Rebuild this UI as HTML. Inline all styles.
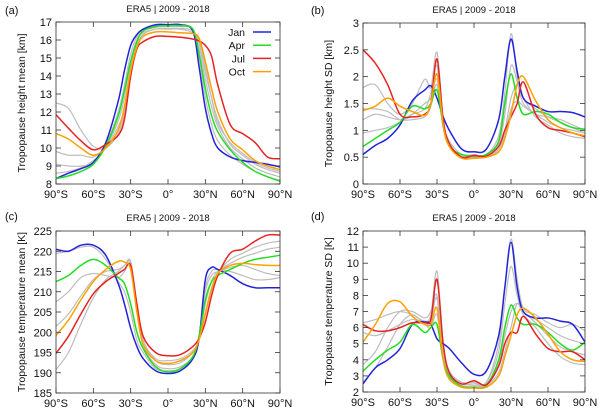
<!DOCTYPE html>
<html><head><meta charset="utf-8"><style>
body{margin:0;background:#fff}
svg{display:block;font-family:"Liberation Sans",sans-serif}
</style></head><body>
<svg id="fig" width="600" height="410" viewBox="0 0 600 410"></svg>
<script>
const lats=[-90,-80,-70,-60,-50,-40,-35,-30,-25,-20,-10,0,10,20,25,30,35,40,50,60,70,80,90];
const xTickVals=[-90,-60,-30,0,30,60,90];
const xTickLabels=["90°S","60°S","30°S","0°","30°N","60°N","90°N"];
const seriesNames=["Jan","Apr","Jul","Oct"];
const seriesColors=["#2222dd","#22dd22","#e82222","#ffa000"];
// panel a: tropopause height mean
const aJan=[8.3,8.6,8.85,9.2,10.3,12.6,14.3,15.7,16.3,16.6,16.85,16.85,16.85,16.5,14.5,12.2,10.8,10.0,9.5,9.3,9.2,9.1,8.95];
const aApr=[8.3,8.45,8.7,9.1,10.1,11.8,13.2,14.8,15.9,16.5,16.75,16.8,16.8,16.6,15.2,13.3,11.8,10.9,9.9,9.2,8.7,8.4,8.15];
const aJul=[11.85,11.1,10.4,9.9,10.2,10.7,11.6,14.0,15.5,15.9,16.2,16.2,16.15,16.05,15.95,15.7,15.1,13.5,11.3,10.8,10.3,9.5,9.4];
const aOct=[10.8,10.5,10.0,9.6,10.0,11.0,12.3,14.3,15.6,16.2,16.45,16.45,16.4,16.35,16.1,14.8,13.3,12.0,10.5,9.9,9.3,9.0,8.8];
const aGray1=[12.5,12.2,11.0,10.1,10.0,10.8,12.0,14.4,15.7,16.3,16.6,16.6,16.6,16.4,15.9,14.5,12.8,11.4,10.3,9.7,9.2,8.9,8.7];
const aGray2=[9.8,9.6,9.6,9.5,10.1,11.5,12.8,14.8,16.0,16.5,16.7,16.75,16.75,16.6,15.5,13.8,12.3,11.2,10.0,9.4,8.9,8.6,8.4];
const aGray3=[9.1,9.0,9.0,9.2,10.2,12.0,13.5,15.2,16.2,16.6,16.8,16.85,16.8,16.6,15.0,12.8,11.3,10.4,9.6,9.1,8.7,8.4,8.2];
const aGray4=[8.6,8.7,8.9,9.3,10.0,11.2,12.2,14.5,15.9,16.4,16.6,16.65,16.65,16.5,15.8,14.2,12.8,11.6,10.2,9.6,9.1,8.8,8.6];
// panel b: tropopause height SD
const bJan=[0.55,0.72,0.85,1.1,1.55,1.75,1.83,1.6,1.25,1.0,0.65,0.6,0.65,1.2,2.0,2.7,2.1,1.6,1.45,1.35,1.35,1.33,1.25];
const bApr=[0.7,0.85,1.0,1.15,1.45,1.4,1.5,1.75,1.1,0.7,0.55,0.52,0.55,0.8,1.5,2.05,1.6,1.3,1.35,1.3,1.15,1.05,1.02];
const bJul=[2.5,2.25,1.85,1.3,1.25,1.3,1.5,2.33,1.2,0.75,0.5,0.53,0.52,0.7,1.0,1.25,1.5,1.9,1.3,1.05,1.0,0.95,0.88];
const bOct=[1.37,1.45,1.6,1.45,1.35,1.28,1.5,2.05,1.1,0.7,0.48,0.48,0.5,0.6,0.85,1.3,1.85,2.0,1.55,1.2,1.05,0.95,0.9];
const bGray1=[1.8,1.85,1.5,1.3,1.5,1.95,1.8,2.45,1.2,0.8,0.55,0.55,0.55,0.9,1.7,2.8,2.0,1.6,1.4,1.25,1.15,1.05,0.95];
const bGray2=[1.2,1.3,1.25,1.2,1.3,1.4,1.7,2.2,1.1,0.7,0.52,0.52,0.55,0.75,1.3,2.2,1.9,1.5,1.3,1.15,1.05,1.0,0.95];
const bGray3=[0.95,1.0,1.05,1.15,1.3,1.5,1.6,1.95,1.05,0.7,0.5,0.5,0.52,0.65,1.0,1.6,1.85,1.6,1.25,1.1,0.95,0.88,0.85];
const bGray4=[1.4,1.4,1.35,1.2,1.2,1.25,1.45,1.85,1.05,0.7,0.55,0.5,0.5,0.6,0.9,1.4,1.55,1.45,1.3,1.25,1.2,1.1,1.0];
// panel c: tropopause temperature mean
const cJan=[220.5,220,221.5,221.5,219,212,207,201,196.5,193.5,190.5,189.8,190.5,193.5,198.5,213,216,215.5,214,212,211,211,211];
const cApr=[212.5,214,216.5,218,216.5,213.5,212,207,200,196,191.5,190.2,191,194,199,208,212.5,214,215.5,217,218,218.5,219];
const cJul=[194.8,199,204.5,209.5,212.5,214.5,215.5,216.5,207,199,195,194.2,194.5,196.5,198.5,202.5,209,214,219.5,220.5,222.5,224,224];
const cOct=[199.2,203,208,212.5,215.5,217.5,217.3,215.5,205,197,193,192.3,193,195,198.2,204.5,210.5,214.5,216.5,217,216.7,216.5,216.5];
const cGray1=[190.8,195,202,208.5,213,215,216.5,217.5,207,198,193,192,192.5,195,198,205,211,214.5,218,219.5,221,222,222.5];
const cGray2=[207.5,210,213.5,214.5,214,213.5,215,217.5,206,197,192,191,191.5,194,199,210,214,215,216,216.5,215.5,214.5,214];
const cGray3=[219.5,220,221,221,218,212.5,210,205,198,195,191,190.5,191,194,199,211,215,215.5,215,214,213,213,213.5];
const cGray4=[201.5,204.5,209,213,215,215.5,216.5,217,206,198,193.5,193,193.5,195.5,198.5,207,212.5,215,217,218.5,219.5,220.5,221];
// panel d: tropopause temperature SD
const dJan=[2.5,3.5,4.0,4.7,6.2,6.35,6.2,5.3,5.0,4.7,3.8,3.1,3.3,5.5,8.5,11.3,8.5,7.0,6.6,6.6,6.4,6.2,5.1];
const dApr=[3.3,4.0,4.6,5.1,6.2,5.7,6.0,6.2,4.0,3.0,2.35,2.3,2.4,4.0,6.0,7.4,6.6,6.2,6.2,5.7,5.0,4.6,5.1];
const dJul=[6.2,5.8,5.8,6.0,6.3,6.3,6.5,9.0,5.0,3.2,2.5,2.7,2.45,3.6,5.0,5.7,5.7,6.7,5.6,4.7,4.5,4.5,4.0];
const dOct=[5.1,6.2,7.5,7.6,6.7,6.2,6.2,7.2,4.0,2.8,2.3,2.25,2.3,3.0,4.2,5.5,6.8,7.2,6.6,5.6,4.5,4.0,3.9];
const dGray1=[6.3,6.5,6.8,7.0,6.8,6.4,6.8,9.5,5.0,3.3,2.6,2.6,2.6,5.0,8.5,11.5,9,7.2,6.8,6.3,6.0,6.2,5.8];
const dGray2=[3.7,4.5,6.0,7.0,7.0,6.6,7.0,8.0,4.5,3.0,2.5,2.5,2.6,4.5,7.5,9.8,8.0,7.0,6.5,6.0,5.5,5.2,5.0];
const dGray3=[5.7,5.5,5.8,6.2,6.5,6.3,6.5,7.8,4.2,3.0,2.4,2.4,2.5,3.8,5.5,7.0,7.5,7.0,6.3,5.5,4.8,4.5,4.3];
const dGray4=[2.6,3.5,4.8,6.2,6.8,6.2,6.0,6.8,4.2,2.9,2.3,2.3,2.4,3.2,4.5,6.0,7.5,6.8,6.0,5.0,4.2,3.8,3.7];
const aTicks=[8,9,10,11,12,13,14,15,16,17];
const bTicks=[0,0.5,1,1.5,2,2.5,3];
const cTicks=[185,190,195,200,205,210,215,220,225];
const dTicks=[2,3,4,5,6,7,8,9,10,11,12];

const NS="http://www.w3.org/2000/svg";
const svg=document.getElementById('fig');
function mk(tag,attrs,parent){const e=document.createElementNS(NS,tag);for(const k in attrs)e.setAttribute(k,attrs[k]);(parent||svg).appendChild(e);return e;}
function smooth(pts){let d="M"+pts[0][0].toFixed(2)+","+pts[0][1].toFixed(2);
 for(let i=0;i<pts.length-1;i++){const p0=pts[Math.max(0,i-1)],p1=pts[i],p2=pts[i+1],p3=pts[Math.min(pts.length-1,i+2)];
  const c1=[p1[0]+(p2[0]-p0[0])/6,p1[1]+(p2[1]-p0[1])/6],c2=[p2[0]-(p3[0]-p1[0])/6,p2[1]-(p3[1]-p1[1])/6];
  d+=" C"+c1[0].toFixed(2)+","+c1[1].toFixed(2)+" "+c2[0].toFixed(2)+","+c2[1].toFixed(2)+" "+p2[0].toFixed(2)+","+p2[1].toFixed(2);}
 return d;}

const panels=[
 {id:"a",x0:56,x1:280,y0:22,y1:184,ticks:aTicks,ylab:"Tropopause height mean [km]",yl:25,tag:[5,14],cols:[aJan,aApr,aJul,aOct],grays:[aGray1,aGray2,aGray3,aGray4],legend:true},
 {id:"b",x0:363,x1:585,y0:23,y1:184,ticks:bTicks,ylab:"Tropopause height SD [km]",yl:332,tag:[311,14],cols:[bJan,bApr,bJul,bOct],grays:[bGray1,bGray2,bGray3,bGray4]},
 {id:"c",x0:56,x1:280,y0:231,y1:393,ticks:cTicks,ylab:"Tropopause temperature mean [K]",yl:25,tag:[5,220],cols:[cJan,cApr,cJul,cOct],grays:[cGray1,cGray2,cGray3,cGray4]},
 {id:"d",x0:363,x1:585,y0:231,y1:392,ticks:dTicks,ylab:"Tropopause temperature SD [K]",yl:332,tag:[311,220],cols:[dJan,dApr,dJul,dOct],grays:[dGray1,dGray2,dGray3,dGray4]}
];

panels.forEach(p=>{
 const g=mk('g',{});
 
 
 const ymin=p.ticks[0],ymax=p.ticks[p.ticks.length-1];
 const X=v=>p.x0+(v+90)/180*(p.x1-p.x0);
 const Y=v=>p.y1-(v-ymin)/(ymax-ymin)*(p.y1-p.y0);
 const tg=mk('text',{x:p.tag[0],y:p.tag[1],'font-size':11,fill:'#111'},g);tg.textContent="("+p.id+")";
 
 
 const tt=mk('text',{x:(p.x0+p.x1)/2,y:p.y0-10,'font-size':9.5,'text-anchor':'middle',fill:'#111'},g);tt.textContent="ERA5 | 2009 - 2018";
 
 
 const clip=mk('clipPath',{id:'clip'+p.id},g);mk('rect',{x:p.x0,y:p.y0,width:p.x1-p.x0,height:p.y1-p.y0},clip);
 const lg=mk('g',{'clip-path':'url(#clip'+p.id+')'},g);
 p.grays.forEach((s,i)=>{const e=mk('path',{d:smooth(lats.map((la,j)=>[X(la),Y(s[j])])),fill:'none',stroke:'#bdbdbd','stroke-width':1.2},lg);
  
  });
 p.cols.forEach((s,i)=>{const e=mk('path',{d:smooth(lats.map((la,j)=>[X(la),Y(s[j])])),fill:'none',stroke:seriesColors[i],'stroke-width':1.5},lg);
  
  });
 mk('rect',{x:p.x0,y:p.y0,width:p.x1-p.x0,height:p.y1-p.y0,fill:'none',stroke:'#333','stroke-width':0.8},g);
 p.ticks.forEach(t=>{const y=Y(t);
  mk('line',{x1:p.x0,x2:p.x0+5,y1:y,y2:y,stroke:'#333','stroke-width':0.8},g);
  mk('line',{x1:p.x1,x2:p.x1-5,y1:y,y2:y,stroke:'#333','stroke-width':0.8},g);
  const e=mk('text',{x:p.x0-4,y:y+4,'font-size':11,'text-anchor':'end',fill:'#111'},g);e.textContent=String(t);
  
  });
 xTickVals.forEach((v,i)=>{const x=X(v);
  mk('line',{x1:x,x2:x,y1:p.y1,y2:p.y1-5,stroke:'#333','stroke-width':0.8},g);
  mk('line',{x1:x,x2:x,y1:p.y0,y2:p.y0+5,stroke:'#333','stroke-width':0.8},g);
  const e=mk('text',{x:x,y:p.y1+14,'font-size':11,'text-anchor':'middle',fill:'#111'},g);e.textContent=xTickLabels[i];
  
  });
 const yc=(p.y0+p.y1)/2;
 const yl=mk('text',{x:p.yl,y:yc,'font-size':10.5,'text-anchor':'middle',fill:'#111',transform:'rotate(-90 '+p.yl+' '+yc+')'},g);yl.textContent=p.ylab;
 
 
 if(p.legend){seriesNames.forEach((n,i)=>{const y=32+i*13.2;
  const t=mk('text',{x:245,y:y+4,'font-size':10.5,'text-anchor':'end',fill:'#111'},g);t.textContent=n;
  
  
  const l=mk('line',{x1:253,x2:271,y1:y,y2:y,stroke:seriesColors[i],'stroke-width':1.5},g);
  
  });}
});
</script>
</body></html>
